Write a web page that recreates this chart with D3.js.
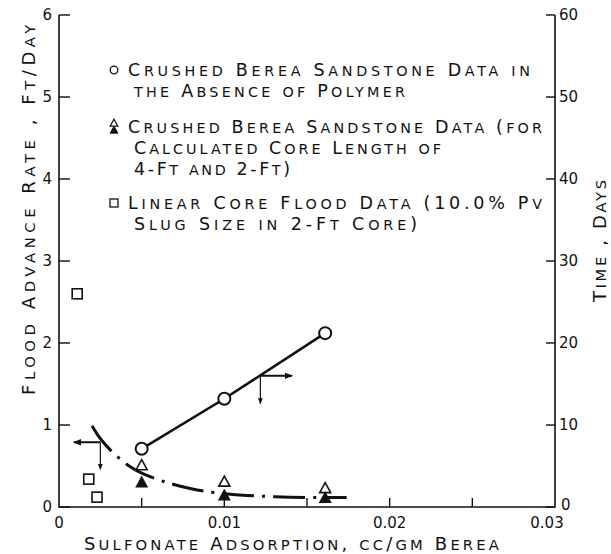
<!DOCTYPE html>
<html>
<head>
<meta charset="utf-8">
<script src="https://cdn.jsdelivr.net/npm/d3@7"></script>
<style>
  body { margin: 0; background: #fff; }
  svg { display: block; }
  text { font-family: "DejaVu Sans", sans-serif; fill: #111; }
</style>
</head>
<body>
<svg id="chart" width="611" height="554"></svg>
<script>
// crushed Berea, no polymer: sulfonate adsorption vs time (right axis, days)
var circleData = [[0.0050, 7.1], [0.0100, 13.2], [0.0161, 21.2]];
// crushed Berea, calculated core length 4-ft (open) and 2-ft (filled), ft/day
var triOpen = [[0.0050, 0.51], [0.0100, 0.31], [0.0161, 0.23]];
var triFilled = [[0.0050, 0.30], [0.0100, 0.14], [0.0161, 0.11]];
// linear core flood data, ft/day
var squareData = [[0.0011, 2.60], [0.0018, 0.34], [0.0023, 0.12]];
// dash-dot flood advance rate curve (left axis)
var rateCurve = [[0.0020, 0.99], [0.0025, 0.82], [0.0034, 0.63], [0.0044, 0.47], [0.0050, 0.41],
  [0.0060, 0.33], [0.0070, 0.27], [0.0080, 0.22], [0.0090, 0.185], [0.0100, 0.16],
  [0.0113, 0.14], [0.0130, 0.125], [0.0150, 0.115], [0.0174, 0.115]];

var xTicks = [0, 0.01, 0.02, 0.03];
var xLabels = ['0', '0.01', '0.02', '0.03'];
var xMinor = [0.005, 0.01, 0.015, 0.02, 0.025];
var leftTicks = [0, 1, 2, 3, 4, 5, 6];
var rightTicks = [0, 10, 20, 30, 40, 50, 60];

var legendLines = [
  ['Crushed Berea Sandstone Data in', 'the Absence of Polymer'],
  ['Crushed Berea Sandstone Data (for', 'Calculated Core Length of', '4-Ft and 2-Ft)'],
  ['Linear Core Flood Data (10.0% Pv', 'Slug Size in 2-Ft Core)']
];

var svg = d3.select('#chart');

var x = d3.scaleLinear().domain([0, 0.03]).range([59, 555]);
var yL = d3.scaleLinear().domain([0, 6]).range([507, 15]);
var yR = d3.scaleLinear().domain([0, 60]).range([507, 15]);

var ink = '#111';

// lettering-guide style: capitals full size, lower case drawn as small capitals
function smallCaps(sel, str, size, ratio) {
  var runs = str.match(/[a-z]+|[^a-z]+/g);
  sel.attr('font-size', size);
  runs.forEach(function (r) {
    var small = /[a-z]/.test(r);
    sel.append('tspan')
      .attr('font-size', small ? size * ratio : size)
      .text(small ? r.toUpperCase() : r);
  });
  return sel;
}

// spread letters so the line covers a given width
function fitWidth(sel, width) {
  var node = sel.node();
  var len = node.getComputedTextLength();
  var n = node.textContent.length;
  sel.attr('letter-spacing', Math.max(0, (width - len) / (n - 1)));
}

// axes frame: left, bottom, right (no top)
svg.append('path')
  .attr('d', 'M' + x(0) + ',' + yL(6) + 'V' + yL(0) + 'H' + x(0.03) + 'V' + yR(60))
  .attr('fill', 'none')
  .attr('stroke', ink)
  .attr('stroke-width', 1.6);

// left ticks (inward)
svg.selectAll('.ltick')
  .data(leftTicks)
  .enter()
  .append('line')
  .attr('class', 'ltick')
  .attr('x1', x(0))
  .attr('x2', x(0) + 11)
  .attr('y1', function (d) { return yL(d); })
  .attr('y2', function (d) { return yL(d); })
  .attr('stroke', ink)
  .attr('stroke-width', 1.4);

svg.selectAll('.llabel')
  .data(leftTicks)
  .enter()
  .append('text')
  .attr('class', 'llabel')
  .attr('x', x(0) - 7)
  .attr('y', function (d) { return yL(d) + 5; })
  .attr('text-anchor', 'end')
  .attr('font-size', 15)
  .text(function (d) { return d; });

// right ticks (inward)
svg.selectAll('.rtick')
  .data(rightTicks)
  .enter()
  .append('line')
  .attr('class', 'rtick')
  .attr('x1', x(0.03))
  .attr('x2', x(0.03) - 9)
  .attr('y1', function (d) { return yR(d); })
  .attr('y2', function (d) { return yR(d); })
  .attr('stroke', ink)
  .attr('stroke-width', 1.4);

svg.selectAll('.rlabel')
  .data(rightTicks)
  .enter()
  .append('text')
  .attr('class', 'rlabel')
  .attr('x', function (d) { return x(0.03) + (d === 0 ? 6 : 4); })
  .attr('y', function (d) { return yR(d) + (d === 0 ? 3 : 5); })
  .attr('font-size', 15)
  .text(function (d) { return d; });

// bottom ticks (upward)
svg.selectAll('.xtick')
  .data(xMinor)
  .enter()
  .append('line')
  .attr('class', 'xtick')
  .attr('x1', function (d) { return x(d); })
  .attr('x2', function (d) { return x(d); })
  .attr('y1', yL(0))
  .attr('y2', yL(0) - 9)
  .attr('stroke', ink)
  .attr('stroke-width', 1.4);

svg.selectAll('.xlabel')
  .data(xTicks)
  .enter()
  .append('text')
  .attr('class', 'xlabel')
  .attr('x', function (d) { return d === 0.03 ? x(d) - 8 : x(d); })
  .attr('y', 528)
  .attr('text-anchor', 'middle')
  .attr('font-size', 15)
  .text(function (d, i) { return xLabels[i]; });

// axis titles
var xTitle = svg.append('text')
  .attr('x', 84)
  .attr('y', 550);
smallCaps(xTitle, 'Sulfonate  Adsorption, cc/gm Berea', 18, 0.82);
fitWidth(xTitle, 418);

var yTitle = svg.append('text')
  .attr('transform', 'translate(35,395) rotate(-90)');
smallCaps(yTitle, 'Flood  Advance Rate , Ft/Day', 18, 0.82);
fitWidth(yTitle, 375);

var rTitle = svg.append('text')
  .attr('transform', 'translate(606,302) rotate(-90)');
smallCaps(rTitle, 'Time , Days', 18, 0.82);
fitWidth(rTitle, 122);

// dash-dot curve
var line = d3.line()
  .x(function (d) { return x(d[0]); })
  .y(function (d) { return yL(d[1]); })
  .curve(d3.curveBasis);

svg.append('path')
  .datum(rateCurve)
  .attr('d', line)
  .attr('fill', 'none')
  .attr('stroke', ink)
  .attr('stroke-width', 3)
  .attr('stroke-dasharray', '32,8,3,8');

// solid line through circles (right axis)
var lineR = d3.line()
  .x(function (d) { return x(d[0]); })
  .y(function (d) { return yR(d[1]); });

svg.append('path')
  .datum(circleData)
  .attr('d', lineR)
  .attr('fill', 'none')
  .attr('stroke', ink)
  .attr('stroke-width', 2.6);

// arrows (annotation in data units, left axis)
var arrowDefs = [
  { x0: 0.0025, y0: 0.79, xh: 0.0009, yv: 0.46 },
  { x0: 0.01218, y0: 1.60, xh: 0.0141, yv: 1.26 }
];

var defs = svg.append('defs');
defs.append('marker')
  .attr('id', 'head')
  .attr('viewBox', '0 0 10 10')
  .attr('refX', 9)
  .attr('refY', 5)
  .attr('markerWidth', 4)
  .attr('markerHeight', 4)
  .attr('markerUnits', 'strokeWidth')
  .attr('orient', 'auto')
  .append('path')
  .attr('d', 'M0,1L10,5L0,9z')
  .attr('fill', ink);
defs.append('marker')
  .attr('id', 'headThin')
  .attr('viewBox', '0 0 10 10')
  .attr('refX', 9)
  .attr('refY', 5)
  .attr('markerWidth', 6)
  .attr('markerHeight', 5)
  .attr('markerUnits', 'strokeWidth')
  .attr('orient', 'auto')
  .append('path')
  .attr('d', 'M0,1L10,5L0,9z')
  .attr('fill', ink);

arrowDefs.forEach(function (a) {
  svg.append('line')
    .attr('x1', x(a.x0)).attr('y1', yL(a.y0))
    .attr('x2', x(a.xh)).attr('y2', yL(a.y0))
    .attr('stroke', ink)
    .attr('stroke-width', 2)
    .attr('marker-end', 'url(#head)');
  svg.append('line')
    .attr('x1', x(a.x0)).attr('y1', yL(a.y0))
    .attr('x2', x(a.x0)).attr('y2', yL(a.yv))
    .attr('stroke', ink)
    .attr('stroke-width', 1.2)
    .attr('marker-end', 'url(#headThin)');
});

// markers
function triPath(s) {
  return 'M0,' + (-s * 0.55) + 'L' + (s * 0.55) + ',' + (s * 0.45) + 'L' + (-s * 0.55) + ',' + (s * 0.45) + 'Z';
}

svg.selectAll('.circ')
  .data(circleData)
  .enter()
  .append('circle')
  .attr('class', 'circ')
  .attr('cx', function (d) { return x(d[0]); })
  .attr('cy', function (d) { return yR(d[1]); })
  .attr('r', 6)
  .attr('fill', '#fff')
  .attr('stroke', ink)
  .attr('stroke-width', 2);

svg.selectAll('.tri-open')
  .data(triOpen)
  .enter()
  .append('path')
  .attr('class', 'tri-open')
  .attr('transform', function (d) { return 'translate(' + x(d[0]) + ',' + yL(d[1]) + ')'; })
  .attr('d', triPath(10))
  .attr('fill', '#fff')
  .attr('stroke', ink)
  .attr('stroke-width', 1.6);

svg.selectAll('.tri-filled')
  .data(triFilled)
  .enter()
  .append('path')
  .attr('class', 'tri-filled')
  .attr('transform', function (d) { return 'translate(' + x(d[0]) + ',' + yL(d[1]) + ')'; })
  .attr('d', triPath(10))
  .attr('fill', ink)
  .attr('stroke', ink)
  .attr('stroke-width', 1.2);

svg.selectAll('.sq')
  .data(squareData)
  .enter()
  .append('rect')
  .attr('class', 'sq')
  .attr('x', function (d) { return x(d[0]) - 5; })
  .attr('y', function (d) { return yL(d[1]) - 5; })
  .attr('width', 10)
  .attr('height', 10)
  .attr('fill', '#fff')
  .attr('stroke', ink)
  .attr('stroke-width', 1.6);

// legend
var legendTop = [70, 127, 203];
var legendWidths = [[402, 271], [414, 307, 156], [414, 283]];
var lineGap = 21;

legendLines.forEach(function (lines, i) {
  var g = svg.append('g').attr('transform', 'translate(0,' + legendTop[i] + ')');
  lines.forEach(function (str, j) {
    var t = g.append('text')
      .attr('x', j === 0 ? 128 : 134)
      .attr('y', j * lineGap + 6);
    smallCaps(t, str, 17.5, 0.82);
    fitWidth(t, legendWidths[i][j]);
  });

  if (i === 0) {
    g.append('circle').attr('cx', 114).attr('cy', 0).attr('r', 3.8)
      .attr('fill', '#fff').attr('stroke', ink).attr('stroke-width', 1.3);
  } else if (i === 1) {
    g.append('path').attr('transform', 'translate(114,-4)').attr('d', triPath(7))
      .attr('fill', '#fff').attr('stroke', ink).attr('stroke-width', 1.2);
    g.append('path').attr('transform', 'translate(114,3)').attr('d', triPath(7))
      .attr('fill', ink).attr('stroke', ink).attr('stroke-width', 1);
  } else {
    g.append('rect').attr('x', 110).attr('y', -4).attr('width', 8).attr('height', 8)
      .attr('fill', '#fff').attr('stroke', ink).attr('stroke-width', 1.3);
  }
});
</script>
</body>
</html>
